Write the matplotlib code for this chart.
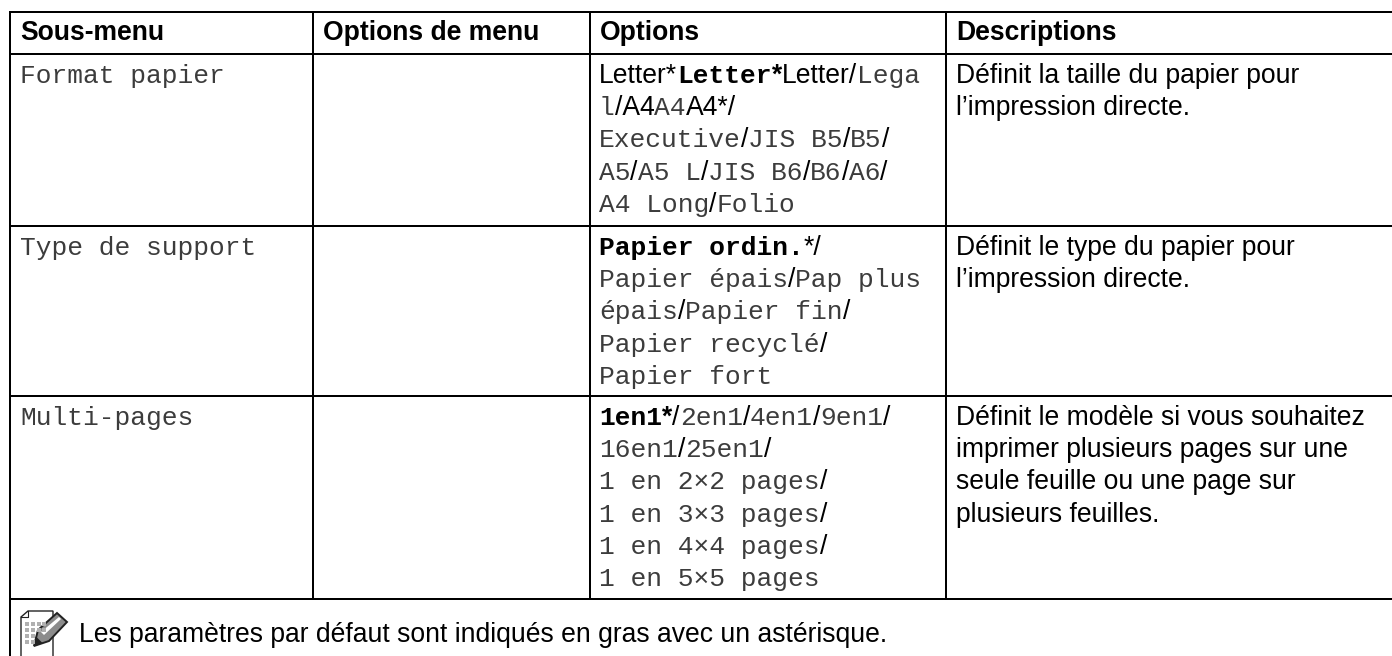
import matplotlib
import matplotlib.pyplot as plt
from matplotlib.patches import Polygon

matplotlib.use("Agg")

W, H = 1392, 656
DPI = 100

# styles: s = sans, b = sans bold, m = mono, mb = mono bold
headers = ["Sous-menu", "Options de menu", "Options", "Descriptions"]

submenus = ["Format papier", "Type de support", "Multi-pages"]

options = [
    [
        [("Letter*", "s"), ("Letter", "mb"), ("*", "b"), ("Letter/", "s"), ("Lega", "m")],
        [("l", "m"), ("/A4", "s"), ("A4", "m"), ("A4*/", "s")],
        [("Executive", "m"), ("/", "s"), ("JIS B5", "m"), ("/", "s"), ("B5", "m"), ("/", "s")],
        [("A5", "m"), ("/", "s"), ("A5 L", "m"), ("/", "s"), ("JIS B6", "m"), ("/", "s"),
         ("B6", "m"), ("/", "s"), ("A6", "m"), ("/", "s")],
        [("A4 Long", "m"), ("/", "s"), ("Folio", "m")],
    ],
    [
        [("Papier ordin.", "mb"), ("*/", "s")],
        [("Papier épais", "m"), ("/", "s"), ("Pap plus", "m")],
        [("épais", "m"), ("/", "s"), ("Papier fin", "m"), ("/", "s")],
        [("Papier recyclé", "m"), ("/", "s")],
        [("Papier fort", "m")],
    ],
    [
        [("1en1", "mb"), ("*", "b"), ("/", "s"), ("2en1", "m"), ("/", "s"), ("4en1", "m"),
         ("/", "s"), ("9en1", "m"), ("/", "s")],
        [("16en1", "m"), ("/", "s"), ("25en1", "m"), ("/", "s")],
        [("1 en 2×2 pages", "m"), ("/", "s")],
        [("1 en 3×3 pages", "m"), ("/", "s")],
        [("1 en 4×4 pages", "m"), ("/", "s")],
        [("1 en 5×5 pages", "m")],
    ],
]

descriptions = [
    ["Définit la taille du papier pour", "l’impression directe."],
    ["Définit le type du papier pour", "l’impression directe."],
    ["Définit le modèle si vous souhaitez", "imprimer plusieurs pages sur une",
     "seule feuille ou une page sur", "plusieurs feuilles."],
]

footnote = "Les paramètres par défaut sont indiqués en gras avec un astérisque."

col_x = [10, 313, 590, 946]
row_y = [12, 54, 225.5, 395.5, 598.5]
first_baseline = [83, 255, 425]
LINE_H = 32.2
PAD = 10
SANS_PX = 26.55
MONO_PX = 26.2

STYLES = {
    "s": dict(family="Liberation Sans", size=SANS_PX * 72 / DPI),
    "b": dict(family="Liberation Sans", size=SANS_PX * 72 / DPI, weight="bold"),
    "m": dict(family="Liberation Mono", size=MONO_PX * 72 / DPI, color="#3c3c3c"),
    "mb": dict(family="Liberation Mono", size=MONO_PX * 72 / DPI, weight="bold"),
}

fig = plt.figure(figsize=(W / DPI, H / DPI), dpi=DPI)
ax = fig.add_axes([0, 0, 1, 1])
ax.set_xlim(0, W)
ax.set_ylim(H, 0)
ax.axis("off")
renderer = fig.canvas.get_renderer()


def put(x, y, text, style):
    kw = {"color": "#000000", **STYLES[style]}
    return ax.text(x, y, text, va="baseline", ha="left", **kw)


def advance(text, style):
    # largeur avec un point final, pour compter l'approche du dernier signe
    probe = put(0, 0, text + ".", style)
    dot = put(0, 0, ".", style)
    w = probe.get_window_extent(renderer).width - dot.get_window_extent(renderer).width
    probe.remove()
    dot.remove()
    return w


def put_runs(x, y, runs):
    for text, style in runs:
        put(x, y, text, style)
        x += advance(text, style)


# lignes du tableau (pas de bord droit, les filets vont au bord de l'image)
lw = 2 * 72 / DPI
for y in row_y:
    ax.plot([col_x[0], W], [y, y], color="black", lw=lw, solid_capstyle="projecting")
for x in col_x[1:]:
    ax.plot([x, x], [row_y[0], row_y[-1]], color="black", lw=lw)
ax.plot([col_x[0], col_x[0]], [row_y[0], H], color="black", lw=lw)

for x, label in zip(col_x, headers):
    put(x + PAD, 40, label, "b")

for i, base in enumerate(first_baseline):
    put(col_x[0] + PAD, base, submenus[i], "m")
    for j, runs in enumerate(options[i]):
        put_runs(col_x[2] + PAD - 1, base + j * LINE_H, runs)
    for j, line in enumerate(descriptions[i]):
        put(col_x[3] + PAD, base + j * LINE_H, line, "s")

put(79, 642, footnote, "s")

# icone note (page + crayon)
ax.add_patch(Polygon([(53, 656), (53, 611), (28, 611), (21, 617), (21, 656)], closed=False,
                     fc="white", ec="#222222", lw=1.0))
ax.plot([21, 28, 28], [617, 617, 611], color="#222222", lw=0.8)
for yy in (624, 630, 636, 642):
    for xx in (27, 33, 39, 44):
        if xx < 36 or yy < 634:
            ax.plot([xx], [yy], "s", ms=2.4, color="#b0b0b0", mew=0)
ax.add_patch(Polygon([(34, 646), (38, 630), (57, 613), (67, 622), (49, 641)],
                     fc="#8c8c8c", ec="#222222", lw=1.4))
ax.add_patch(Polygon([(41, 632), (59, 617), (61, 619), (44, 635)], fc="white", ec="none"))
ax.add_patch(Polygon([(34, 646), (36, 637), (42, 643)], fc="#222222", ec="#222222", lw=0.5))

fig.savefig("out.png", dpi=DPI)
